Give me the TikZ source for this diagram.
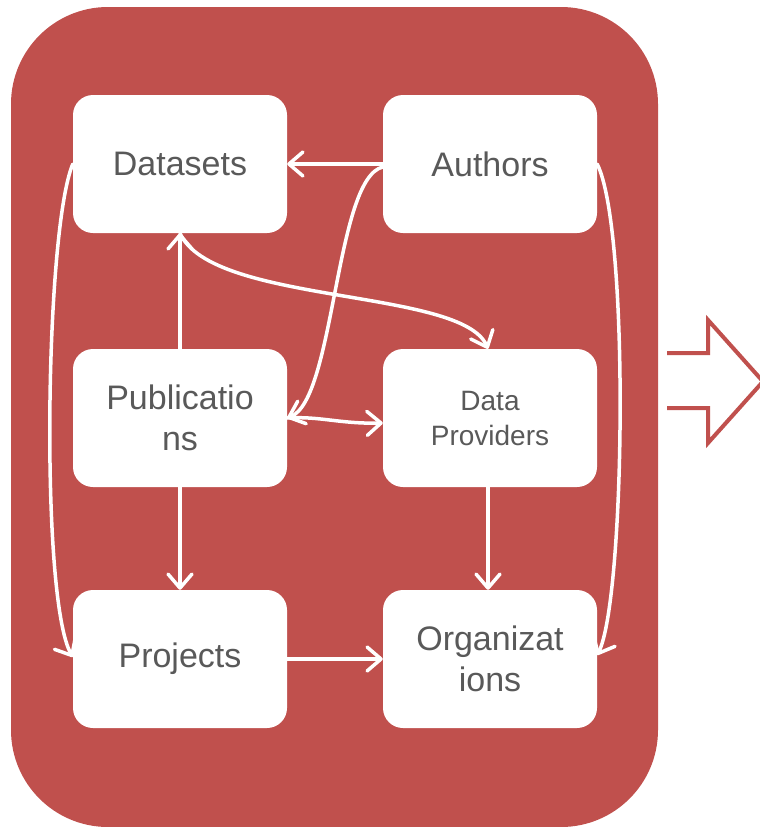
\documentclass[tikz,border=0pt]{standalone}
\usepackage{fontspec}
\setmainfont{Liberation Sans}
\usetikzlibrary{arrows.meta}
\definecolor{bgred}{HTML}{C0504D}
\definecolor{txtgray}{HTML}{595959}
\tikzset{
  box/.style={draw=none, fill=white, rounded corners=20pt, minimum width=214pt, minimum height=138pt, inner sep=0pt, align=center, text=txtgray, font=\fontsize{34pt}{41pt}\selectfont},
  smallbox/.style={box, font=\fontsize{28pt}{35pt}\selectfont},
  conn/.style={draw=white, line width=3.5pt, line cap=round, -{Straight Barb[length=14pt,width=24pt,line cap=round,line join=round]}},
  outarrow/.style={draw=bgred, fill=white, line width=4pt, line join=miter}
}
\begin{document}
\begin{tikzpicture}[x=1pt, y=-1pt]
\useasboundingbox (0,0) rectangle (760,827);
\fill[bgred, rounded corners=97pt] (11,7) rectangle (658,827);
\node[box] (ds) at (180,164) {Datasets};
\node[box] (auth) at (490,164) {Authors};
\node[box] (pub) at (180,418) {Publicatio\\ns};
\node[smallbox] (dp) at (490,418) {Data\\Providers};
\node[box] (proj) at (180,659) {Projects};
\node[box] (org) at (490,659) {Organizat\\ions};
% connectors
\draw[conn] (auth.west) -- (ds.east);
\draw[conn] ([yshift=-3pt]auth.west) .. controls (335,178) and (335,400) .. (pub.east);
\draw[conn] (pub.east) .. controls (320,416) and (340,424) .. ([yshift=-5pt]dp.west);
\draw[conn] (pub.north) -- (ds.south);
\draw[conn] (ds.south) .. controls (212,305) and (462,288) .. ([xshift=-2pt]dp.north);
\draw[conn] (pub.south) -- (proj.north);
\draw[conn] ([xshift=-2pt]dp.south) -- ([xshift=-2pt]org.north);
\draw[conn] (proj.east) -- (org.west);
\draw[conn] (ds.west) .. controls (45,230) and (40,600) .. ([yshift=2pt]proj.west);
\draw[conn] (auth.east) .. controls (630,230) and (625,600) .. ([yshift=4pt]org.east);
% outgoing arrow
\draw[outarrow] (667,353) -- (708,353) -- (708,320) -- (763,381.5) -- (708,443) -- (708,408) -- (667,408);
\end{tikzpicture}
\end{document}
